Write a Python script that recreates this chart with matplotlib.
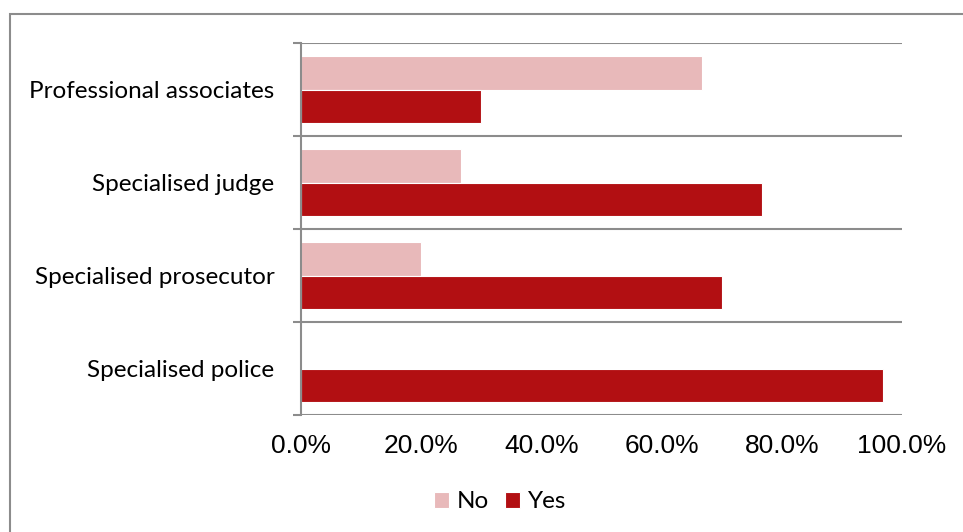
import matplotlib.pyplot as plt
import matplotlib.patches as mpatches
import numpy as np
from matplotlib.ticker import FixedLocator

plt.rcParams['font.family'] = ['Lato', 'DejaVu Sans']

# share of countries with each kind of specialisation (%)
categories = ['Specialised police', 'Specialised prosecutor', 'Specialised judge', 'Professional associates']
yes_vals = [96.8, 70.0, 76.7, 30.0]
no_vals = [0.0, 20.0, 26.7, 66.7]
x_ticks = [0, 20, 40, 60, 80, 100]

c_no = '#E8B9BA'
c_yes = '#B20F12'
grid_c = '#8C8C8C'

fig = plt.figure(figsize=(9.63, 5.32), dpi=100)
ax = fig.add_axes([301/963, 1 - 415/532, 601/963, 372/532])

y = np.arange(len(categories))
h = 0.355
ax.barh(y + h/2, no_vals, height=h, color=c_no, edgecolor='white', linewidth=0.8, label='No')
ax.barh(y - h/2, yes_vals, height=h, color=c_yes, edgecolor='white', linewidth=0.8, label='Yes')

ax.set_xlim(0, 100)
ax.set_ylim(-0.5, len(categories) - 0.5)
ax.set_xticks(x_ticks)
ax.set_xticklabels([f'{v:.1f}%' for v in x_ticks], fontsize=19)
for lab in ax.get_xticklabels():
    lab.set_fontfamily(['Liberation Sans', 'DejaVu Sans'])
ax.tick_params(axis='x', length=0, pad=14)

ax.set_yticks(y)
ax.set_yticklabels(categories, fontsize=17.5)
ax.tick_params(axis='y', which='major', length=0, pad=19)
ax.yaxis.set_minor_locator(FixedLocator(np.arange(-0.5, len(categories), 1)))
ax.tick_params(axis='y', which='minor', length=6, width=1.5, color=grid_c)
ax.grid(axis='y', which='minor', color=grid_c, linewidth=1.5)
ax.set_axisbelow(True)

for s in ['top', 'right', 'bottom']:
    ax.spines[s].set_visible(False)
ax.spines['left'].set_color(grid_c)
ax.spines['left'].set_linewidth(1.5)

fig.legend(loc='center', bbox_to_anchor=(500/963, 1 - 502/532), ncol=2, frameon=False,
           prop={'size': 17.5}, handlelength=0.6, handleheight=0.6,
           handletextpad=0.33, columnspacing=0.66)

# outer chart border
fig.patches.append(mpatches.Rectangle((10/963, -0.05), 1.1, 1 - 14/532 + 0.05, transform=fig.transFigure,
                                      fill=False, edgecolor=grid_c, linewidth=1.5, clip_on=False))

fig.savefig('out.png', dpi=100)
